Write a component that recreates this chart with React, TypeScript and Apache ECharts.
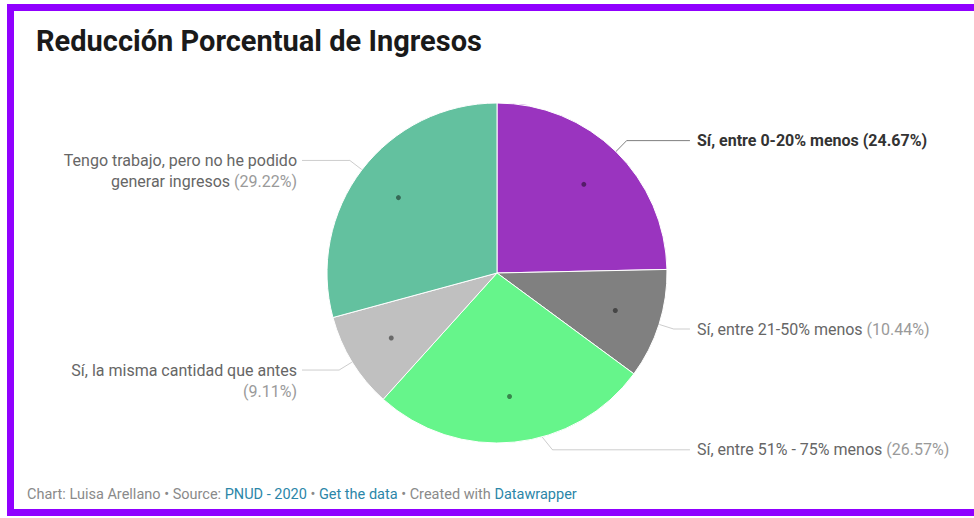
import React, { useEffect, useRef } from 'react';
import * as echarts from 'echarts';

const TITLE = 'Reducción Porcentual de Ingresos';
const categories = [
  'Sí, entre 0-20% menos',
  'Sí, entre 21-50% menos',
  'Sí, entre 51% - 75% menos',
  'Sí, la misma cantidad que antes',
  'Tengo trabajo, pero no he podido\ngenerar ingresos',
];
const values = [24.67, 10.44, 26.57, 9.11, 29.22];
const percentOnNewLine = [false, false, false, true, false];
const highlighted = [true, false, false, false, false];
const colors = ['#9a34bf', '#808080', '#66f58b', '#c0c0c0', '#63c19f'];
const footerParts: [string, boolean][] = [
  ['Chart: Luisa Arellano • Source: ', false],
  ['PNUD - 2020', true],
  [' • ', false],
  ['Get the data', true],
  [' • Created with ', false],
  ['Datawrapper', true],
];

const W = 974;
const H = 518;
const CX = 497;
const CY = 273;
const R = 170;
const LH = 21;
const FS = 16;
const total = values.reduce((a, b) => a + b, 0);

function midAngle(i: number) {
  let before = 0;
  for (let k = 0; k < i; k++) before += values[k];
  return ((before + values[i] / 2) / total) * Math.PI * 2;
}

export default function App() {
  const ref = useRef<HTMLDivElement>(null);
  useEffect(() => {
    if (!ref.current) return;
    const chart = echarts.init(ref.current, null, { renderer: 'svg' });
    const font = 'Roboto, "Noto Sans", sans-serif';
    const option: any = {
      animation: false,
      backgroundColor: '#ffffff',
      graphic: [
        { type: 'rect', left: 7, top: 4, shape: { width: W - 7, height: 7 }, style: { fill: '#9000ff' }, z: 10 },
        { type: 'rect', left: 7, top: 509, shape: { width: W - 7, height: 7 }, style: { fill: '#9000ff' }, z: 10 },
        { type: 'rect', left: 7, top: 4, shape: { width: 7, height: 512 }, style: { fill: '#9000ff' }, z: 10 },
        {
          type: 'text',
          left: 36,
          top: 26,
          style: { text: TITLE, font: `bold 29px ${font}`, fill: '#1a1a1a' },
        },
        {
          type: 'text',
          left: 27,
          top: 487,
          style: {
            text: footerParts.map(([t, l]) => `{${l ? 'l' : 'g'}|${t}}`).join(''),
            rich: {
              g: { fontSize: 14.5, fontFamily: font, fill: '#8a8a8a', color: '#8a8a8a' },
              l: { fontSize: 14.5, fontFamily: font, fill: '#2b86a8', color: '#2b86a8' },
            },
          },
        },
      ],
      series: [
        {
          type: 'pie',
          center: [CX, CY],
          radius: [0, R],
          startAngle: 90,
          clockwise: true,
          silent: true,
          emphasis: { disabled: true },
          itemStyle: { borderColor: '#ffffff', borderWidth: 1 },
          data: values.map((v, i) => ({
            name: categories[i],
            value: v,
            itemStyle: { color: colors[i] },
            labelLine: {
              lineStyle: { color: highlighted[i] ? 'rgba(0,0,0,0.5)' : 'rgba(0,0,0,0.2)', width: 1 },
            },
          })),
          label: {
            show: true,
            position: 'outside',
            fontFamily: font,
            fontSize: FS,
            lineHeight: LH,
            formatter: (p: any) => {
              const i = p.dataIndex;
              const pct = `(${values[i].toFixed(2)}%)`;
              if (highlighted[i]) return `{b|${categories[i]} ${pct}}`;
              const nameLines = categories[i].split('\n').map((s) => `{n|${s}}`).join('\n');
              return `${nameLines}${percentOnNewLine[i] ? '\n' : '{n| }'}{p|${pct}}`;
            },
            rich: {
              b: { fontFamily: font, fontSize: FS, fontWeight: 'bold', color: '#333333', lineHeight: LH },
              n: { fontFamily: font, fontSize: FS, color: '#666666', lineHeight: LH },
              p: { fontFamily: font, fontSize: FS, color: '#9a9a9a', lineHeight: LH },
            },
          },
          labelLine: { show: true, length: 10, length2: 10, smooth: false },
          labelLayout: (params: any) => {
            const i = params.dataIndex;
            const a = midAngle(i);
            const s = Math.sin(a);
            const c = Math.cos(a);
            const right = s >= 0;
            const rb = R * 1.09;
            const maxDy = R * 1.04;
            let dy = -rb * c;
            dy = Math.max(-maxDy, Math.min(maxDy, dy));
            const bx = CX + (right ? 1 : -1) * Math.sqrt(rb * rb - dy * dy);
            const by = CY + dy;
            const ex = CX + (right ? R * 1.135 : -R * 1.147);
            const dot = [CX + 0.73 * R * s, CY - 0.73 * R * c];
            const multi = categories[i].includes('\n') || percentOnNewLine[i];
            return {
              x: right ? ex + 7 : ex - 5,
              y: multi ? by - LH / 2 : by,
              align: right ? 'left' : 'right',
              verticalAlign: multi ? 'top' : 'middle',
              labelLinePoints: [dot, [bx, by], [ex, by]],
            };
          },
        },
        {
          type: 'custom',
          coordinateSystem: 'none',
          silent: true,
          z: 5,
          data: values.map((_, i) => i),
          renderItem: (params: any) => {
            const i = params.dataIndex;
            const a = midAngle(i);
            return {
              type: 'circle',
              shape: { cx: CX + 0.73 * R * Math.sin(a), cy: CY - 0.73 * R * Math.cos(a), r: 2.5 },
              style: { fill: 'rgba(0,0,0,0.45)' },
            };
          },
        },
      ],
    };
    chart.setOption(option);
    return () => chart.dispose();
  }, []);
  return (
    <div
      ref={ref}
      style={{ position: 'absolute', left: 0, top: 0, width: W, height: H, background: '#fff' }}
    />
  );
}
